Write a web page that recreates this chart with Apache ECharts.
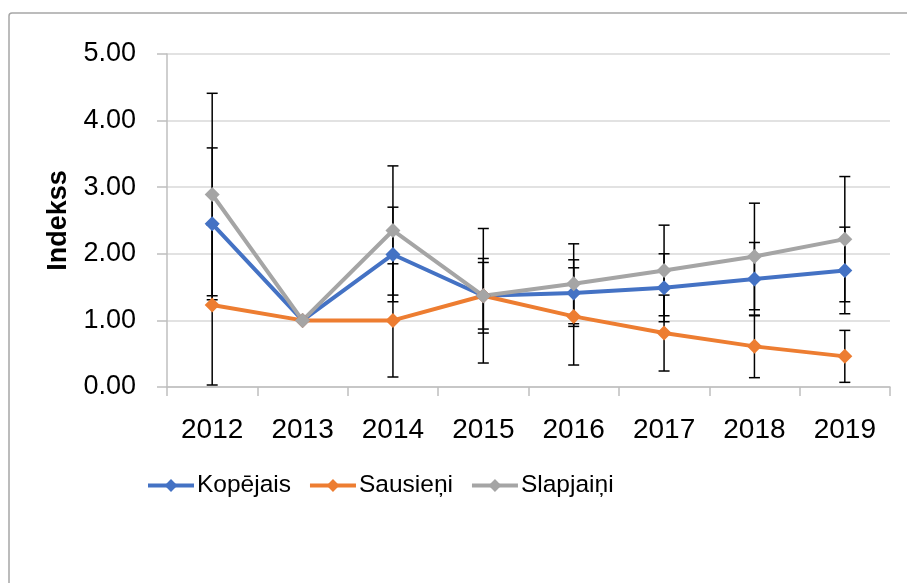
<!DOCTYPE html>
<html>
<head>
<meta charset="utf-8">
<script src="https://cdn.jsdelivr.net/npm/echarts@6/dist/echarts.min.js"></script>
<style>
html,body{margin:0;padding:0;background:#fff;}
#chart{width:907px;height:583px;}
</style>
</head>
<body>
<div id="chart"></div>
<script>
var categories = ['2012','2013','2014','2015','2016','2017','2018','2019'];
var seriesNames = ['Kopējais','Sausieņi','Slapjaiņi'];
var kopejais = [2.45, 1.00, 1.99, 1.37, 1.41, 1.49, 1.62, 1.75];
var kopejaisErr = [1.14, 0, 0.71, 0.50, 0.50, 0.51, 0.55, 0.65];
var sausieni = [1.23, 1.00, 1.00, 1.37, 1.06, 0.81, 0.61, 0.46];
var sausieniErr = [1.20, 0, 0.85, 0.56, 0.73, 0.57, 0.47, 0.39];
var slapjaini = [2.89, 1.00, 2.35, 1.37, 1.55, 1.75, 1.96, 2.22];
var slapjainiErr = [1.52, 0, 0.97, 1.01, 0.60, 0.68, 0.80, 0.94];
var yAxisName = 'Indekss';
var colors = ['#4472C4', '#ED7D31', '#A5A5A5'];

var FONT = 'Liberation Sans';

function errData(vals, errs) {
  var out = [];
  for (var i = 0; i < vals.length; i++) {
    if (errs[i] > 0) out.push([i, vals[i] - errs[i], vals[i] + errs[i]]);
  }
  return out;
}

function errSeries(vals, errs) {
  return {
    type: 'custom',
    z: 1,
    silent: true,
    data: errData(vals, errs),
    renderItem: function (params, api) {
      var x = api.value(0);
      var lo = api.coord([x, api.value(1)]);
      var hi = api.coord([x, api.value(2)]);
      var hw = 5.5;
      var st = { stroke: '#000', lineWidth: 1.5 };
      return {
        type: 'group',
        children: [
          { type: 'line', shape: { x1: lo[0], y1: lo[1], x2: hi[0], y2: hi[1] }, style: st },
          { type: 'line', shape: { x1: lo[0] - hw, y1: lo[1], x2: lo[0] + hw, y2: lo[1] }, style: st },
          { type: 'line', shape: { x1: hi[0] - hw, y1: hi[1], x2: hi[0] + hw, y2: hi[1] }, style: st }
        ]
      };
    }
  };
}

function lineSeries(name, vals, color) {
  return {
    name: name,
    type: 'line',
    z: 3,
    data: vals,
    symbol: 'diamond',
    symbolSize: 15,
    showAllSymbol: true,
    lineStyle: { width: 4, color: color },
    itemStyle: { color: color },
    emphasis: { disabled: true }
  };
}

var chart = echarts.init(document.getElementById('chart'), null, { renderer: 'canvas' });
chart.setOption({
  animation: false,
  color: colors,
  textStyle: { fontFamily: FONT },
  graphic: [{
    type: 'rect',
    shape: { x: 9, y: 13, width: 1000, height: 1000, r: 3 },
    style: { fill: 'none', stroke: '#a6a6a6', lineWidth: 1.5 },
    z: -1
  }],
  grid: { left: 167, right: 17, top: 54, bottom: 196 },
  legend: {
    data: seriesNames,
    left: 141,
    top: 468,
    itemWidth: 46,
    itemHeight: 16,
    itemGap: 17,
    lineStyle: { width: 4 },
    textStyle: { fontSize: 24.5, color: '#000', fontFamily: FONT, padding: [0, 0, 0, -2] }
  },
  xAxis: {
    type: 'category',
    data: categories,
    boundaryGap: true,
    axisLine: { lineStyle: { color: '#bfbfbf', width: 1.5 } },
    axisTick: { show: true, length: 9, lineStyle: { color: '#bfbfbf', width: 1.5 } },
    axisLabel: { fontSize: 28, color: '#000', margin: 29, fontFamily: FONT }
  },
  yAxis: {
    type: 'value',
    min: 0,
    max: 5,
    interval: 1,
    name: yAxisName,
    nameLocation: 'middle',
    nameGap: 95,
    nameRotate: 90,
    nameTextStyle: { fontSize: 27, fontWeight: 'bold', color: '#000', fontFamily: FONT },
    axisLine: { show: true, lineStyle: { color: '#bfbfbf', width: 1.5 } },
    axisTick: { show: true, length: 10, lineStyle: { color: '#bfbfbf', width: 1.5 } },
    splitLine: { lineStyle: { color: '#d9d9d9', width: 1.5 } },
    axisLabel: {
      fontSize: 27, color: '#000', margin: 31, fontFamily: FONT,
      formatter: function (v) { return v.toFixed(2); }
    }
  },
  series: [
    errSeries(kopejais, kopejaisErr),
    errSeries(sausieni, sausieniErr),
    errSeries(slapjaini, slapjainiErr),
    lineSeries(seriesNames[0], kopejais, colors[0]),
    lineSeries(seriesNames[1], sausieni, colors[1]),
    lineSeries(seriesNames[2], slapjaini, colors[2])
  ]
});
</script>
</body>
</html>
